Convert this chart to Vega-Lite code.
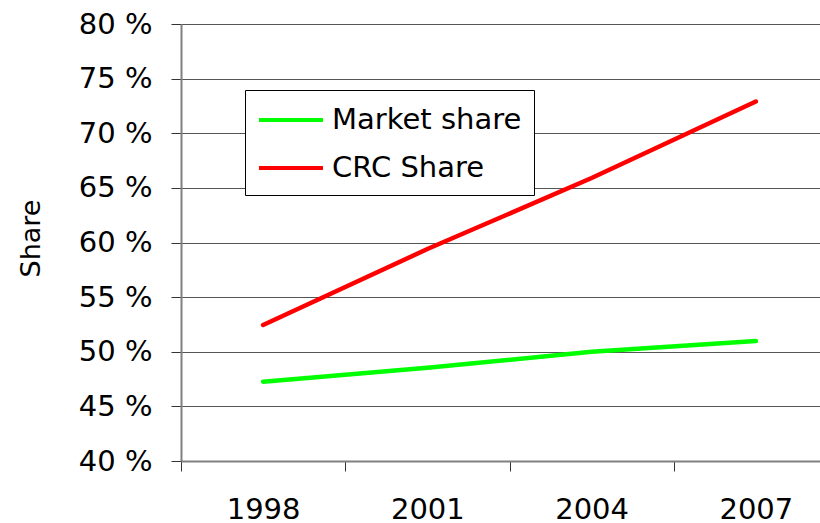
{
  "$schema": "https://vega.github.io/schema/vega-lite/v6.json",
  "autosize": {"type": "none"},
  "width": 639,
  "height": 437,
  "padding": {"left": 181, "top": 24, "right": 0, "bottom": 62},
  "background": "white",
  "config": {"view": {"stroke": null}},
  "data": {
    "values": [
      {"year": "1998", "series": "Market share", "share": 47.26},
      {"year": "2001", "series": "Market share", "share": 48.53},
      {"year": "2004", "series": "Market share", "share": 50.0},
      {"year": "2007", "series": "Market share", "share": 50.98},
      {"year": "1998", "series": "CRC Share", "share": 52.45},
      {"year": "2001", "series": "CRC Share", "share": 59.4},
      {"year": "2004", "series": "CRC Share", "share": 65.9},
      {"year": "2007", "series": "CRC Share", "share": 72.9}
    ]
  },
  "mark": {"type": "line", "strokeWidth": 4.5, "strokeCap": "round"},
  "encoding": {
    "x": {
      "field": "year",
      "type": "ordinal",
      "scale": {"type": "band", "paddingInner": 0, "paddingOuter": 0, "range": [0, 657]},
      "axis": {
        "title": null,
        "labelAngle": 0,
        "tickBand": "extent",
        "grid": false,
        "domainColor": "#808080",
        "domainWidth": 2,
        "tickColor": "#333333",
        "tickWidth": 1,
        "tickSize": 10,
        "labelFont": "DejaVu Sans",
        "labelFontSize": 29,
        "labelColor": "black",
        "labelPadding": 24,
        "labelBaseline": "top"
      }
    },
    "y": {
      "field": "share",
      "type": "quantitative",
      "scale": {"domain": [40, 80], "nice": false, "zero": false},
      "axis": {
        "title": "Share",
        "titleFont": "DejaVu Sans",
        "titleFontSize": 27,
        "titleFontWeight": "normal",
        "titleColor": "black",
        "titleAngle": -90,
        "titleAlign": "center",
        "titleBaseline": "middle",
        "titleX": -149.5,
        "titleY": 214,
        "values": [40, 45, 50, 55, 60, 65, 70, 75, 80],
        "labelExpr": "datum.value + ' %'",
        "labelFont": "DejaVu Sans",
        "labelFontSize": 29,
        "labelColor": "black",
        "labelPadding": 19,
        "labelBaseline": "middle",
        "tickSize": 10,
        "tickColor": "#333333",
        "tickWidth": 1,
        "domainColor": "#808080",
        "domainWidth": 2,
        "grid": true,
        "gridColor": "#555555",
        "gridWidth": 1
      }
    },
    "color": {
      "field": "series",
      "type": "nominal",
      "scale": {"domain": ["Market share", "CRC Share"], "range": ["#00ff00", "#ff0000"]},
      "legend": {
        "title": null,
        "orient": "none",
        "legendX": 64,
        "legendY": 66,
        "symbolType": "M-1,0H3",
        "symbolSize": 1024,
        "symbolStrokeWidth": 4,
        "labelFont": "DejaVu Sans",
        "labelFontSize": 29,
        "labelColor": "black",
        "labelLimit": 500,
        "labelOffset": 39,
        "rowPadding": 15,
        "padding": 12,
        "strokeColor": "black",
        "fillColor": "white"
      }
    }
  }
}
